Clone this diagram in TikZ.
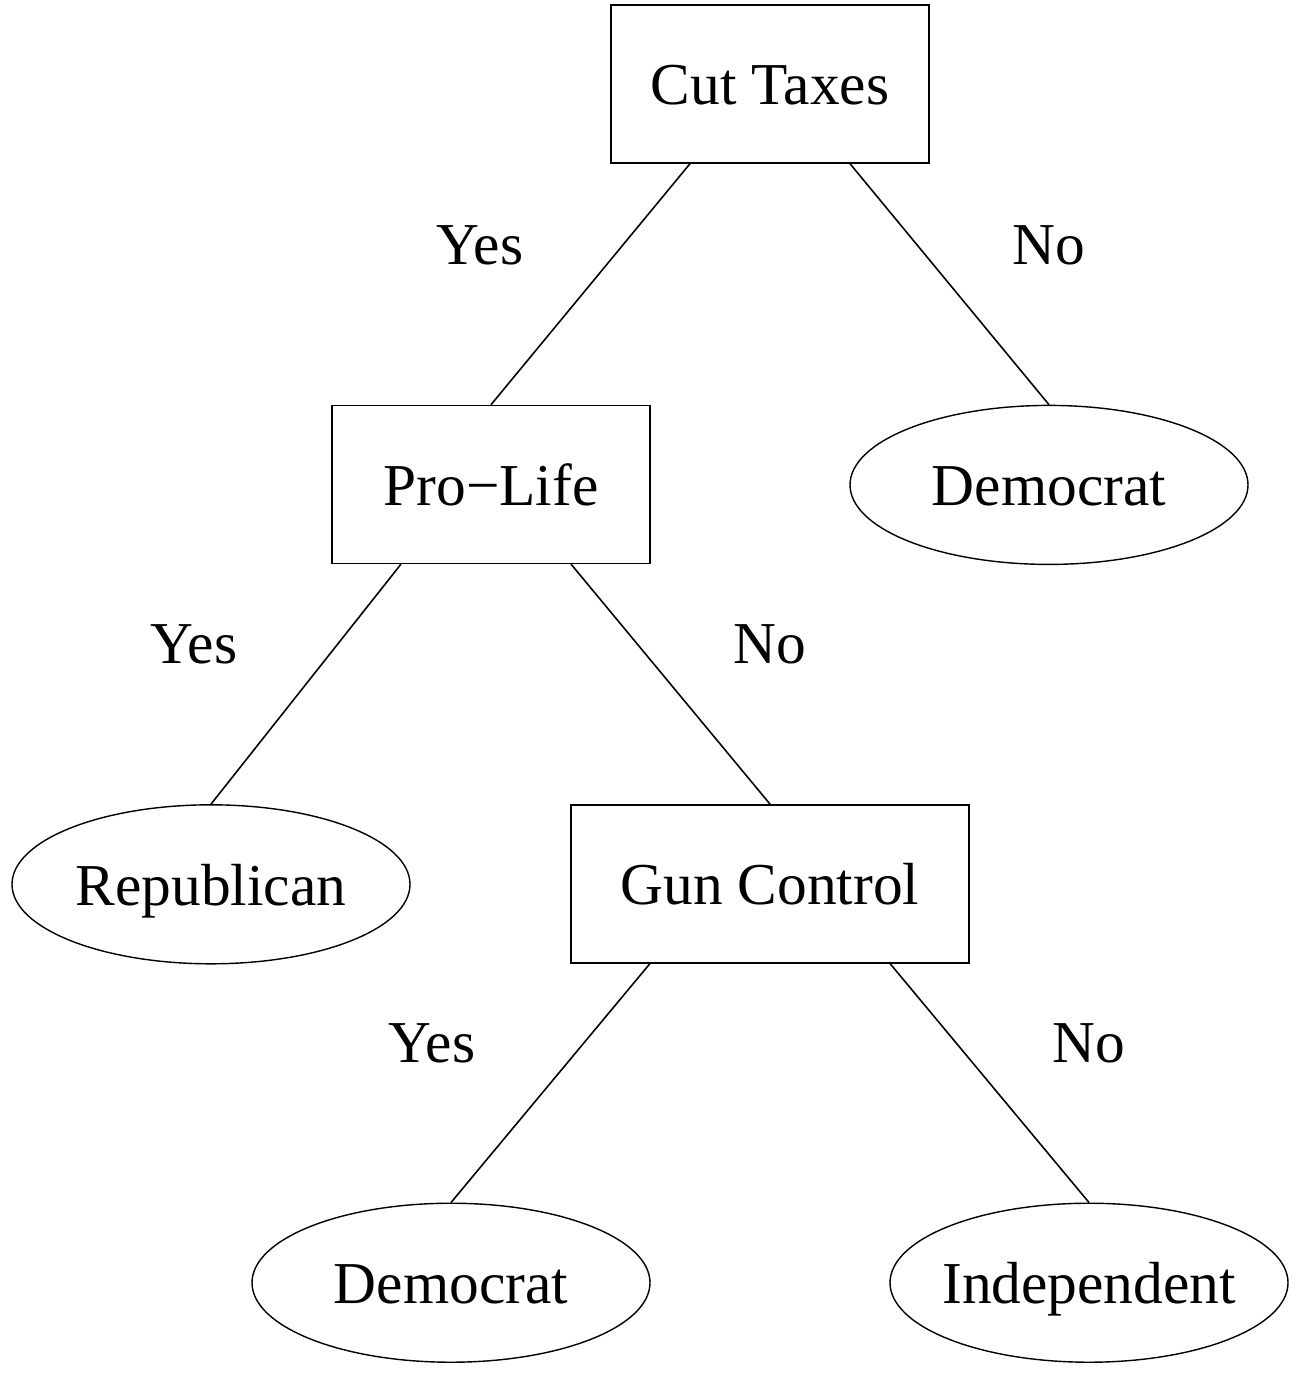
\documentclass[tikz,border=0pt]{standalone}
\usepackage{fontspec}
\setmainfont{Liberation Serif}
\usetikzlibrary{shapes.geometric,positioning}

\begin{document}
\begin{tikzpicture}[
  qbox/.style={
    draw,
    minimum width=3.18cm,
    minimum height=1.58cm,
    inner sep=0pt,
    text height=0.52cm,
    text depth=0.1cm,
    font=\fontsize{16.9}{20}\selectfont
  },
  widebox/.style={
    qbox,
    minimum width=3.98cm
  },
  party/.style={
    draw,
    ellipse,
    minimum width=3.98cm,
    minimum height=1.59cm,
    inner xsep=-5mm,
    inner ysep=0pt,
    text height=0.52cm,
    text depth=0.1cm,
    font=\fontsize{16.9}{20}\selectfont
  },
  answer/.style={
    anchor=base,
    inner sep=0pt,
    font=\fontsize{16.9}{20}\selectfont
  },
  edge/.style={line width=0.45pt}
]
  \useasboundingbox (0,0) rectangle (13.11,-13.80);

  \node[qbox] (taxes) at (7.70,-0.84) {Cut Taxes};

  \node[qbox,below=24.1mm of taxes,xshift=-27.9mm]
    (prolife) {Pro−Life};

  \node[party,below=24.1mm of taxes,xshift=27.9mm]
    (demtop) {Democrat};

  \node[party,below=24mm of prolife,xshift=-28mm]
    (repub) {Republican};

  \node[widebox,below=24mm of prolife,xshift=27.9mm]
    (guns) {Gun Control};

  \node[party,below=23.9mm of guns,xshift=-31.9mm]
    (demlow) {Democrat};

  \node[party,below=23.9mm of guns,xshift=31.9mm]
    (indep) {Independent};

  % branch labels
  \node[answer] (yesA) at (4.80,-2.64) {Yes};
  \node[answer] (noA) at (10.49,-2.64) {No};
  \node[answer] (yesB) at (1.94,-6.63) {Yes};
  \node[answer] (noB) at (7.70,-6.63) {No};
  \node[answer] (yesC) at (4.32,-10.62) {Yes};
  \node[answer] (noC) at (10.89,-10.62) {No};

  \draw[edge] ([xshift=-8mm]taxes.south) -- (prolife.north);
  \draw[edge] ([xshift=8mm]taxes.south) -- (demtop.north);
  \draw[edge] ([xshift=-9mm]prolife.south) -- (repub.north);
  \draw[edge] ([xshift=8mm]prolife.south) -- (guns.north);
  \draw[edge] ([xshift=-12mm]guns.south) -- (demlow.north);
  \draw[edge] ([xshift=12mm]guns.south) -- (indep.north);

\end{tikzpicture}
\end{document}
